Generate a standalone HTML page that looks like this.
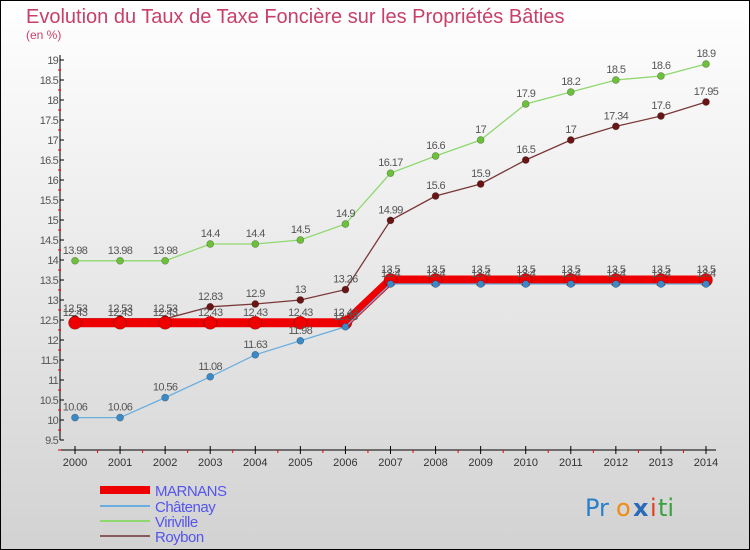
<!DOCTYPE html>
<html><head><meta charset="utf-8"><style>
html,body{margin:0;padding:0}
body{width:750px;height:550px;overflow:hidden}
svg{display:block;font-family:"Liberation Sans","DejaVu Sans",sans-serif}
</style></head><body>
<svg id="chart" width="750" height="550">
<defs><linearGradient id="bg" x1="0" y1="0" x2="0" y2="1"><stop offset="0" stop-color="#ffffff"/><stop offset="1" stop-color="#d2d2d2"/></linearGradient></defs>
<rect x="0.5" y="0.5" width="749" height="549" fill="url(#bg)" stroke="#000"/>
<text x="26" y="23" font-size="20" fill="#c8406a">Evolution du Taux de Taxe Foncière sur les Propriétés Bâties</text>
<text x="26" y="39" font-size="12" fill="#c8406a">(en %)</text>
<g id="axes"></g><g id="series"></g><g id="legend"></g>
<g font-size="24" font-family="'DejaVu Sans',sans-serif">
<text x="585" y="516" fill="#2a7fc8">Pr</text><text x="616" y="516" fill="#f08a10">o</text><text x="633" y="516" fill="#2a6ab8" font-weight="bold">x</text><text x="650" y="516" fill="#e04020">i</text><text x="658" y="516" fill="#3aa040">ti</text>
</g>
</svg>
<script>
const years=[2000,2001,2002,2003,2004,2005,2006,2007,2008,2009,2010,2011,2012,2013,2014];
const marnans=[12.43,12.43,12.43,12.43,12.43,12.43,12.43,13.5,13.5,13.5,13.5,13.5,13.5,13.5,13.5];
const chatenay=[10.06,10.06,10.56,11.08,11.63,11.98,12.33,13.4,13.4,13.4,13.4,13.4,13.4,13.4,13.4];
const viriville=[13.98,13.98,13.98,14.4,14.4,14.5,14.9,16.17,16.6,17,17.9,18.2,18.5,18.6,18.9];
const roybon=[12.53,12.53,12.53,12.83,12.9,13,13.26,14.99,15.6,15.9,16.5,17,17.34,17.6,17.95];
const yTicks=[9.5,10,10.5,11,11.5,12,12.5,13,13.5,14,14.5,15,15.5,16,16.5,17,17.5,18,18.5,19];
const NS="http://www.w3.org/2000/svg";
const xS=i=>75+i*(706-75)/(years.length-1);
const yS=v=>260-(v-14)*40;
function mk(t,a,p){const e=document.createElementNS(NS,t);for(const k in a)e.setAttribute(k,a[k]);p.appendChild(e);return e;}
const ax=document.getElementById('axes');
const yl=mk('line',{x1:60,y1:55,x2:60,y2:440,stroke:'#000'},ax);


const xl=mk('line',{x1:60,y1:450,x2:716,y2:450,stroke:'#000'},ax);


yTicks.forEach(v=>{const y=yS(v);
mk('line',{x1:60,y1:y,x2:64,y2:y,stroke:'#000'},ax);
mk('line',{x1:58,y1:y+10,x2:61,y2:y+10,stroke:'#e00'},ax);
const t=mk('text',{x:58,y:y+4,'text-anchor':'end','font-size':11,fill:'#555','letter-spacing':'-0.8'},ax);t.textContent=String(v);

});
years.forEach((yr,i)=>{const x=xS(i);
mk('line',{x1:x,y1:446,x2:x,y2:454,stroke:'#000'},ax);
if(i<years.length-1){const m=(x+xS(i+1))/2;mk('line',{x1:m,y1:450,x2:m,y2:453,stroke:'#e00'},ax);}
const t=mk('text',{x:x,y:466,'text-anchor':'middle','font-size':11,fill:'#333'},ax);t.textContent=yr;

});
const sg=document.getElementById('series');
const defs=[
{n:'viriville',d:viriville,c:'#8fd870',p:'#6cc03a',w:1.3,r:3.5},
{n:'roybon',d:roybon,c:'#7a3838',p:'#6a1515',w:1.3,r:3.5},
{n:'marnans',d:marnans,c:'#ee0000',p:'#ee0000',w:9,r:6.5},
{n:'chatenay',d:chatenay,c:'#6aaee0',p:'#3a8ac8',w:1.3,r:3.5}];
defs.forEach(s=>{const g=mk('g',{},sg);


const pl=mk('polyline',{points:s.d.map((v,i)=>xS(i)+','+yS(v)).join(' '),fill:'none',stroke:s.c,'stroke-width':s.w},g);


s.d.forEach((v,i)=>{const c=mk('circle',{cx:xS(i),cy:yS(v),r:s.r,fill:s.p,stroke:'rgba(0,0,0,0.3)','stroke-width':0.7},g);


const t=mk('text',{x:xS(i),y:yS(v)-7,'text-anchor':'middle','font-size':11,fill:'#555','letter-spacing':'-0.6'},g);t.textContent=String(v);

});});
const lg=document.getElementById('legend');
[['MARNANS','#ee0000',8,492],['Châtenay','#6aaee0',2,508],['Viriville','#8fd870',2,523],['Roybon','#8a5a5a',2,538]].forEach(e=>{
const g=mk('g',{},lg);


mk('line',{x1:100,y1:e[3]-2,x2:150,y2:e[3]-2,stroke:e[1],'stroke-width':e[2]},g);
const t=mk('text',{x:155,y:e[3]+4,'font-size':15,fill:'#5555ee','letter-spacing':'-0.5'},g);t.textContent=e[0];});
</script>
</body></html>
